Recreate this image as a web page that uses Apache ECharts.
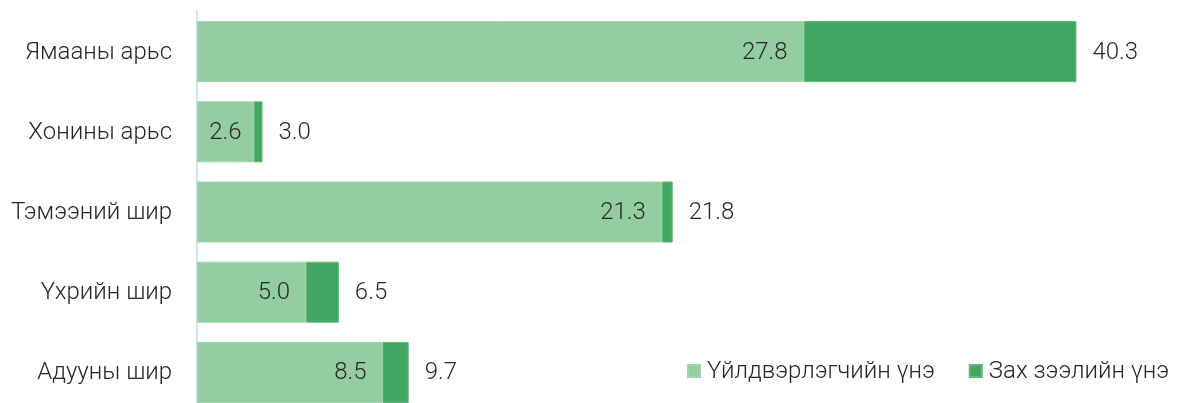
<!DOCTYPE html>
<html>
<head>
<meta charset="utf-8">
<script src="https://cdn.jsdelivr.net/npm/echarts@6/dist/echarts.min.js"></script>
<style>
  html, body { margin: 0; padding: 0; background: #fff; }
  #chart { width: 1179px; height: 403px; }
</style>
</head>
<body>
<div id="chart"></div>
<script>
// Leather & hide prices: producer price and market (total) price
const categories = ['Ямааны арьс', 'Хонины арьс', 'Тэмээний шир', 'Үхрийн шир', 'Адууны шир'];
const producerPrice = [27.8, 2.6, 21.3, 5.0, 8.5];
const marketPrice = [40.3, 3.0, 21.8, 6.5, 9.7];
const seriesNames = ['Үйлдвэрлэгчийн үнэ', 'Зах зээлийн үнэ'];

// The market segment is stacked on top of the producer segment
const marketMargin = marketPrice.map((v, i) => +(v - producerPrice[i]).toFixed(2));

const FONT = "'Roboto Light', Roboto, sans-serif";
const TEXT = '#262626';
const FS = 24;

// Producer labels sit at the inner end of the bar; short bars get them centred
const producerData = producerPrice.map(v => ({
  value: v,
  label: v < 4 ? { position: 'inside' } : undefined
}));

const chart = echarts.init(document.getElementById('chart'));
chart.setOption({
  animation: false,
  textStyle: { fontFamily: FONT },
  grid: { left: 197, right: 0, top: 11.5, height: 401, outerBoundsMode: 'none', containLabel: false },
  xAxis: {
    type: 'value',
    min: 0,
    max: 45,
    show: false
  },
  yAxis: {
    type: 'category',
    data: categories,
    inverse: true,
    axisLine: { show: true, lineStyle: { color: '#cfe2f5', width: 2 } },
    axisTick: { show: false },
    axisLabel: {
      margin: 25,
      color: TEXT,
      fontFamily: FONT,
      fontWeight: 300,
      fontSize: FS
    }
  },
  legend: {
    right: 5,
    top: 354,
    icon: 'rect',
    itemWidth: 12,
    itemHeight: 12,
    itemGap: 34,
    textStyle: { color: TEXT, fontFamily: FONT, fontWeight: 300, fontSize: FS, padding: [0, 0, 0, 2] },
    data: seriesNames
  },
  series: [
    {
      name: seriesNames[0],
      type: 'bar',
      stack: 'price',
      barWidth: 61,
      data: producerData,
      itemStyle: { color: '#93cda0', borderColor: '#9fd4ab', borderWidth: 1 },
      label: {
        show: true,
        position: 'insideRight',
        distance: 16,
        color: TEXT,
        fontFamily: FONT,
        fontWeight: 300,
        fontSize: FS,
        formatter: p => producerPrice[p.dataIndex].toFixed(1)
      }
    },
    {
      name: seriesNames[1],
      type: 'bar',
      stack: 'price',
      barWidth: 61,
      data: marketMargin,
      itemStyle: { color: '#44a663', borderColor: '#5fb57a', borderWidth: 1 },
      label: {
        show: true,
        position: 'right',
        distance: 16,
        color: TEXT,
        fontFamily: FONT,
        fontWeight: 300,
        fontSize: FS,
        formatter: p => marketPrice[p.dataIndex].toFixed(1)
      }
    }
  ]
});
</script>
</body>
</html>
